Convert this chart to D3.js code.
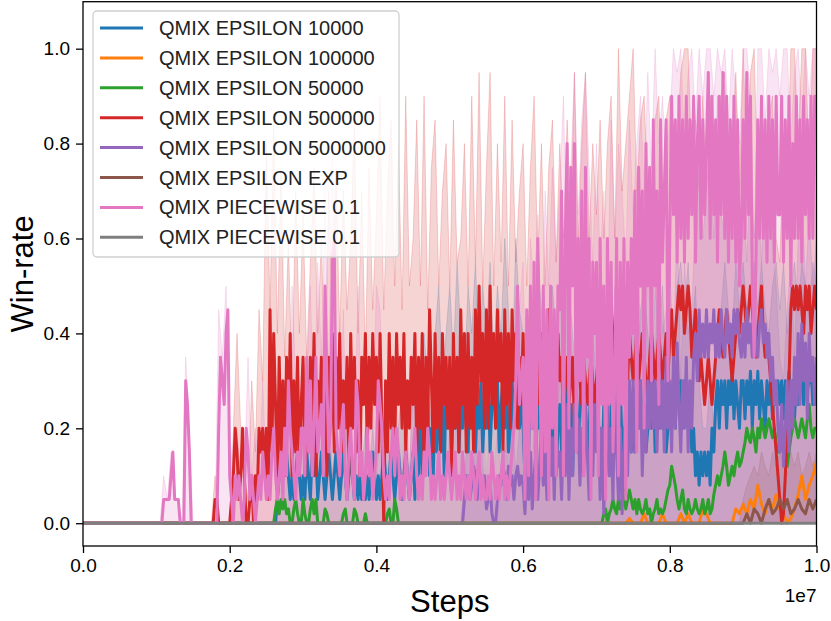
<!DOCTYPE html>
<html>
<head>
<meta charset="utf-8">
<script src="https://cdn.jsdelivr.net/npm/d3@7"></script>
<style>
body { margin: 0; background: #fff; }
text { font-family: "Liberation Sans", Arial, sans-serif; }
</style>
</head>
<body>
<svg width="831" height="621"></svg>
<script>
// legend labels, same order as the series below
let labels = ["QMIX EPSILON 10000", "QMIX EPSILON 100000", "QMIX EPSILON 50000", "QMIX EPSILON 500000",
    "QMIX EPSILON 5000000", "QMIX EPSILON EXP", "QMIX PIECEWISE 0.1", "QMIX PIECEWISE 0.1"]
let colors = ["#1f77b4", "#ff7f0e", "#2ca02c", "#d62728", "#9467bd", "#8c564b", "#e377c2", "#7f7f7f"]

let xTicks = [0, 2e6, 4e6, 6e6, 8e6, 1e7]
let yTicks = [0, 0.2, 0.4, 0.6, 0.8, 1.0]

// logging grids: coarse = every 50k steps, fine = every 25k steps
let steps = d3.range(201).map(i => i * 50000)
let fineSteps = d3.range(401).map(i => i * 25000)

// ---- win-rate means on the fine grid (one line = 0.05e7 steps) ----
let eps10000 = [
    0,0,0,0,0,0,0,0,0,0, 0,0,0,0,0,0,0,0,0,0,
    0,0,0,0,0,0,0,0,0,0, 0,0,0,0,0,0,0,0,0,0,
    0,0,0,0,0,0,0,0,0,0, 0,0,0,0,0,0,0,0,0,0,
    0,0,0,0,0,0,0,0,0,0, 0,0,0,0,0,0,0,0,0,0,
    0,0,0,0,0,0,0,0,0,0, 0,0,0,0,0,0,0,0,0,0,
    0,0,0,0,0,0,.05,.1,.15,.1, .1,.15,.1,.05,.1,.05,.1,.15,.1,.05,
    .1,.05,.15,.1,.05,.15,.1,.15,.05,.1, .15,.1,.05,.1,.15,.1,.05,.1,.15,.1,
    .05,.1,.15,.1,.05,.1,.15,.1,.05,.1, .05,.1,.05,.1,.05,.1,.05,.1,.15,.1,
    .05,.1,.05,.1,.15,.1,.05,.1,.15,.1, .05,.1,.15,.1,.05,.1,.15,.1,.05,.1,
    .15,.05,.2,.1,.25,.1,.2,.15,.25,.1, .2,.1,.25,.15,.3,.15,.25,.1,.3,.2,
    .3,.15,.25,.2,.3,.15,.25,.2,.3,.2, .15,.3,.2,.3,.15,.25,.2,.3,.15,.25,
    .2,.3,.15,.25,.3,.2,.3,.15,.25,.3, .2,.3,.15,.2,.3,.2,.25,.3,.2,.25,
    .2,.1,.25,.15,.3,.2,.3,.15,.25,.2, .25,.1,.2,.3,.2,.25,.15,.25,.1,.2,
    .25,.15,.3,.2,.3,.15,.25,.1,.25,.2, .15,.25,.3,.2,.25,.15,.2,.3,.2,.25,
    .25,.15,.2,.1,.25,.15,.2,.1,.25,.2, .25,.15,.2,.3,.15,.2,.1,.25,.2,.15,
    .2,.15,.25,.2,.3,.2,.25,.15,.2,.25, .2,.3,.15,.25,.2,.3,.2,.25,.15,.2,
    .2,.25,.3,.2,.3,.25,.3,.2,.3,.25, .2,.25,.15,.2,.1,.15,.08,.15,.1,.15,
    .1,.15,.08,.2,.15,.25,.3,.2,.3,.25, .3,.2,.3,.25,.32,.22,.3,.25,.2,.3,
    .3,.22,.3,.25,.32,.2,.3,.25,.32,.22, .3,.25,.2,.3,.25,.3,.22,.3,.25,.3,
    .25,.3,.22,.3,.25,.32,.25,.3,.22,.3, .25,.32,.3,.25,.32,.28,.3,.33,.25,.3,
    .25]
let eps50000 = [
    0,0,0,0,0,0,0,0,0,0, 0,0,0,0,0,0,0,0,0,0,
    0,0,0,0,0,0,0,0,0,0, 0,0,0,0,0,0,0,0,0,0,
    0,0,0,0,0,0,0,0,0,0, 0,0,0,0,0,0,0,0,0,0,
    0,0,0,0,0,0,0,0,0,0, 0,0,0,0,0,0,0,0,0,0,
    0,0,0,0,0,0,0,0,0,0, 0,0,0,0,0,0,0,0,0,0,
    0,0,0,0,0,.03,.05,.02,.05,.03, .05,.02,.03,0,0,.03,.05,.02,0,0,
    .05,.02,0,0,.03,.05,.02,.05,0,0, 0,0,.03,.02,0,0,0,0,0,0,
    0,0,.02,.03,0,0,0,0,.03,.02, 0,0,0,0,.02,0,0,0,0,0,
    0,0,0,0,0,0,.02,.03,0,0, .05,.03,0,0,0,0,0,0,0,0,
    0,0,0,0,0,0,0,0,0,0, 0,0,0,0,0,0,0,0,0,0,
    0,0,0,0,0,0,0,0,0,0, 0,0,0,0,0,0,0,0,0,0,
    0,0,0,0,0,0,0,0,0,0, 0,0,0,0,0,0,0,0,0,0,
    0,0,0,0,0,0,0,0,0,0, 0,0,0,0,0,0,0,0,0,0,
    0,0,0,0,0,0,0,0,0,0, 0,0,0,0,0,0,0,0,0,0,
    0,0,0,0,.02,.03,0,.02,.03,.05, .03,.02,.05,.03,.05,.07,.03,.05,.07,.05,
    .03,.05,.02,.05,.03,.02,.03,.05,.02,.03, 0,.02,.03,.05,.02,.03,.02,.03,.05,.07,
    .08,.12,.1,.08,.05,.03,.05,.07,.03,.02, .05,.03,.02,.03,.05,.03,.02,.03,.05,.02,
    .03,.05,.02,.03,.06,.08,.1,.08,.1,.12, .15,.12,.08,.1,.12,.1,.13,.15,.12,.13,
    .15,.17,.2,.18,.17,.2,.18,.15,.2,.18, .22,.2,.18,.2,.22,.2,.18,.2,.17,.15,
    .15,.18,.17,.15,.12,.15,.18,.2,.22,.2, .18,.2,.22,.2,.18,.22,.25,.2,.18,.2,
    .2]
let eps500000 = [
    0,0,0,0,0,0,0,0,0,0, 0,0,0,0,0,0,0,0,0,0,
    0,0,0,0,0,0,0,0,0,0, 0,0,0,0,0,0,0,0,0,0,
    0,0,0,0,0,0,0,0,0,0, 0,0,0,0,0,0,0,0,0,0,
    0,0,0,0,0,0,0,0,0,0, 0,0,.05,.05,0,0,0,0,0,0,
    0,.05,.1,.2,.15,.05,.1,.2,.1,0, 0,.05,.1,0,.1,.05,.2,.15,.2,.1,
    .2,.05,.45,.15,.4,.25,.1,.35,.15,.3, .1,.35,.2,.4,.1,.3,.15,.35,.1,.25,
    .35,.1,.3,.15,.35,.2,.4,.1,.3,.2, .35,.15,.3,.1,.35,.2,.4,.15,.35,.2,
    .4,.15,.3,.2,.35,.1,.4,.2,.35,.15, .3,.1,.35,.25,.4,.15,.35,.2,.4,.25,
    .35,.15,.4,.2,0,.3,.15,.4,.2,.35, .15,.4,.25,.35,.2,.4,.15,.3,.2,.35,
    .25,.4,.15,.35,.2,.4,.1,.35,.2,.45, .3,.15,.4,.2,.35,.15,.4,.25,.35,.2,
    .35,.1,.4,.2,.35,.15,.45,.25,.4,.15, .4,.2,.35,.15,.45,.25,.5,.3,.4,.2,
    .45,.2,.5,.25,.4,.2,.45,.3,.4,.15, .45,.25,.4,.2,.45,.3,.4,.2,.35,.25,
    .4,.2,.35,.25,.45,.3,.4,.2,.35,.25, .4,.2,.35,.3,.45,.25,.4,.3,.35,.4,
    .3,.35,.2,.3,.35,.25,.3,.35,.2,.3, .35,.3,.25,.35,.3,.25,.3,.35,.3,.25,
    .3,.35,.4,.35,.45,.4,.35,.3,.45,.4, .35,.4,.3,.35,.4,.45,.35,.3,.4,.35,
    .3,.35,.4,.3,.35,.4,.35,.3,.25,.35, .4,.35,.3,.35,.4,.35,.3,.35,.4,.3,
    .4,.45,.35,.4,.45,.5,.45,.5,.4,.45, .5,.45,.35,.4,.45,.4,.3,.35,.3,.25,
    .3,.35,.3,.25,.3,.35,.4,.45,.4,.35, .4,.45,.4,.35,.3,.35,.4,.45,.4,.45,
    .5,.45,.4,.45,.5,.45,.4,.35,.4,.45, .5,.4,.35,.4,.35,.3,.25,.2,.15,.1,
    .05,0,.02,.1,.2,.3,.45,.5,.45,.5, .45,.5,.45,.4,.5,.45,.5,.4,.45,.5,
    .45]
let eps5000000 = [
    0,0,0,0,0,0,0,0,0,0, 0,0,0,0,0,0,0,0,0,0,
    0,0,0,0,0,0,0,0,0,0, 0,0,0,0,0,0,0,0,0,0,
    0,0,0,0,0,0,0,0,0,0, 0,0,0,0,0,0,0,0,0,0,
    0,0,0,0,0,0,0,0,0,0, 0,0,0,0,0,0,0,0,0,0,
    0,0,0,0,0,0,0,0,0,0, 0,0,0,0,0,0,0,0,0,0,
    0,0,0,0,0,0,0,0,0,0, 0,0,0,0,0,0,0,0,0,0,
    0,0,0,0,0,0,0,0,0,0, 0,0,0,0,0,0,0,0,0,0,
    0,0,0,0,0,0,0,0,0,0, 0,0,0,0,0,0,0,0,0,0,
    0,0,0,0,0,0,0,0,0,0, 0,0,0,0,0,0,0,0,0,0,
    0,0,0,0,0,0,0,0,0,0, 0,0,0,0,0,0,0,0,0,0,
    0,0,0,0,0,0,0,0,.05,.1, .1,.05,.08,.12,.1,.05,.12,.08,.06,.1,
    .03,.05,.08,.02,0,0,.05,.1,.08,.12, .1,.05,.12,.08,.1,.05,.1,.12,.08,.1,
    .08,.02,.12,.05,.15,.03,.1,.15,.05,.12, .2,.08,.15,.05,.2,.1,.18,.05,.2,.12,
    .15,.05,.2,.1,.25,.05,.2,.1,.25,.15, .22,.08,.2,.1,.25,.15,.05,.2,.1,.25,
    .15,.25,.05,.2,.02,.15,.25,.1,.2,.05, .3,.15,.05,.2,.02,.15,.25,.1,.3,.15,
    .3,.15,.32,.2,.3,.1,.25,.15,.3,.2, .32,.2,.3,.15,.32,.2,.3,.15,.35,.2,
    .3,.15,.35,.2,.38,.25,.15,.3,.2,.35, .15,.3,.2,.35,.4,.3,.45,.35,.42,.35,
    .45,.35,.42,.38,.45,.35,.42,.35,.45,.38, .35,.45,.38,.42,.35,.45,.4,.45,.38,.35,
    .42,.35,.45,.38,.42,.35,.45,.38,.35,.42, .45,.38,.42,.35,.4,.3,.35,.25,.3,.2,
    .15,.25,.12,.2,.3,.15,.3,.2,.35,.25, .4,.25,.42,.3,.38,.22,.4,.3,.35,.25,
    .35]
let piecewiseA = [
    0,0,0,0,0,0,0,0,0,0, 0,0,0,0,0,0,0,0,0,0,
    0,0,0,0,0,0,0,0,0,0, 0,0,0,0,0,0,0,0,0,0,
    0,0,0,0,.05,.05,.05,.05,.1,.15, .05,.05,.05,0,0,0,.3,.25,.15,0,
    0,0,0,0,0,0,0,0,0,0, 0,0,0,0,.2,.35,.3,.25,.4,.45,
    .1,.05,0,.1,.05,.1,.05,0,.05,.2, .15,.05,.1,.05,0,.05,.1,.05,.15,.1,
    .05,.1,.05,.15,.2,.1,.05,.1,.15,.05, .2,.1,.3,.2,.15,.1,.05,.15,.1,.2,
    .2,.1,.35,.15,.3,.1,.2,.35,.15,.2, .25,.1,.5,.3,.15,.2,.55,.6,.2,.15,
    .1,.2,.25,.1,.05,.15,.2,.1,.05,.3, .25,.1,.15,.05,.1,.2,.1,.15,.05,.1,
    .15,.3,.25,.2,.1,.05,.1,.05,.15,.2, .1,.2,.15,.05,.1,.05,.15,.1,.05,.1,
    .15,.2,.1,.05,.1,.05,.15,.1,.2,.15, .05,.1,.05,.1,.15,.05,.1,.05,.1,.15,
    .1,.05,.1,.15,.05,.1,.05,.15,.1,.05, .1,.05,.15,.1,.05,.1,.15,.05,.1,.05,
    .05,.1,.05,.15,.1,.05,.1,.05,.1,.15, .05,.1,.05,.1,.15,.2,.3,.5,.25,.3,
    .35,.05,.45,.1,.5,.2,.55,.05,.6,.4, .1,.5,.15,.45,.05,.5,.2,.45,.1,.5,
    .45,.7,.1,.6,.8,.2,.75,.5,.8,.15, .6,.3,.7,.1,.75,.35,.6,.05,.55,.4,
    .55,.1,.6,.25,.5,.05,.6,.25,.55,.15, .3,.6,.1,.55,.25,.6,.05,.55,.35,.6,
    .4,.7,.15,.75,.5,.7,.2,.8,.5,.75, .3,.85,.5,.7,.25,.85,.55,.7,.85,.3,
    .6,.9,.65,.85,.55,.9,.6,.85,.55,.9, .6,.85,.65,.9,.55,.8,.9,.6,.85,.65,
    .8,.95,.6,.9,.65,.85,.55,.9,.65,.95, .6,.9,.55,.85,.6,.9,.55,.85,.5,.6,
    .85,.6,.95,.65,.9,.5,.35,.55,.85,.6, .9,.6,.85,.55,.9,.6,.85,.55,.9,.65,
    .65,.9,.55,.85,.6,.9,.5,.8,.6,.9, .6,.85,.55,.9,.65,.85,.6,.9,.6,.9,
    .9]

// ---- means on the coarse grid (one line = 0.05e7 steps) ----
let eps100000 = [
    0,0,0,0,0,0,0,0,0,0, 0,0,0,0,0,0,0,0,0,0, 0,0,0,0,0,0,0,0,0,0, 0,0,0,0,0,0,0,0,0,0, 0,0,0,0,0,0,0,0,0,0,
    0,0,0,0,0,0,0,0,0,0, 0,0,0,0,0,0,0,0,0,0, 0,0,0,0,0,0,0,0,0,0, 0,0,0,0,0,0,0,0,0,0, 0,0,0,0,0,0,0,0,0,0,
    0,0,0,0,0,0,0,0,0,0, 0,0,0,0,0,0,0,0,0,0, 0,0,0,0,0,0,0,0,0,0, 0,0,0,0,0,0,0,0,0,0, 0,0,0,0,0,0,0,0,0,.01,
    0,0,0,.02,0,0,0,0,.02,0, 0,0,0,.02,0,.02,0,0,0,.03, .02,0,0,0,0,0,0,0,.03,.02,
    .04,.02,.05,.03,.08,.04,.02,.05,.03,.06, .03,.02,0,.01,.03,.06,.1,.05,.08,.1, .13]
let epsExp = [
    0,0,0,0,0,0,0,0,0,0, 0,0,0,0,0,0,0,0,0,0, 0,0,0,0,0,0,0,0,0,0, 0,0,0,0,0,0,0,0,0,0, 0,0,0,0,0,0,0,0,0,0,
    0,0,0,0,0,0,0,0,0,0, 0,0,0,0,0,0,0,0,0,0, 0,0,0,0,0,0,0,0,0,0, 0,0,0,0,0,0,0,0,0,0, 0,0,0,0,0,0,0,0,0,0,
    0,0,0,0,0,0,0,0,0,0, 0,0,0,0,0,0,0,0,0,0, 0,0,0,0,0,0,0,0,0,0, 0,0,0,0,0,0,0,0,0,0, 0,0,0,0,0,0,0,0,0,0,
    0,0,0,0,0,0,0,0,0,0, 0,0,0,0,0,0,0,0,0,0, 0,0,0,0,0,0,0,0,0,0,
    0,.02,0,.03,.02,0,.03,.05,.02,.03, .05,.03,.05,.02,.03,.05,.03,.02,.05,.03, .05]
let piecewiseB = [
    0,0,0,0,0,0,0,0,0,0, 0,0,0,0,0,0,0,0,0,0, 0,0,0,0,0,0,0,0,0,0, 0,0,0,0,0,0,0,0,0,0, 0,0,0,0,0,0,0,0,0,0,
    0,0,0,0,0,0,0,0,0,0, 0,0,0,0,0,0,0,0,0,0, 0,0,0,0,0,0,0,0,0,0, 0,0,0,0,0,0,0,0,0,0, 0,0,0,0,0,0,0,0,0,0,
    0,0,0,0,0,0,0,0,0,0, 0,0,0,0,0,0,0,0,0,0, 0,0,0,0,0,0,0,0,0,0, 0,0,0,0,0,0,0,0,0,0, 0,0,0,0,0,0,0,0,0,0,
    0,0,0,0,0,0,0,0,0,0, 0,0,0,0,0,0,0,0,0,0, 0,0,0,0,0,0,0,0,0,0, 0,0,0,0,0,0,0,0,0,0, 0,0,0,0,0,0,0,0,0,0, 0]

// ---- upper edge of the shaded spread on the coarse grid (lower edge sits on 0) ----
let eps10000Hi = [
    0,0,0,0,0,0,0,0,0,0, 0,0,0,0,0,0,0,0,0,0, 0,0,0,0,0,0,0,0,0,0, 0,0,0,0,0,0,0,0,0,0, 0,0,0,0,0,0,0,0,0,0,
    0,0,0,.1,.2,.3,.2,.1,.2,.1, .2,.1,.3,.2,.3,.1,.2,.3,.1,.2, .1,.2,.3,.2,.1,.2,.1,.2,.1,.2,
    .1,.2,.1,.3,.2,.1,.2,.3,.2,.1, .3,.2,.3,.4,.3,.2,.4,.5,.3,.4, .5,.35,.55,.4,.3,.5,.4,.55,.35,.5,
    .4,.55,.35,.5,.4,.6,.45,.3,.6,.45, .4,.3,.5,.4,.55,.45,.35,.3,.5,.4, .5,.4,.55,.45,.35,.3,.4,.5,.4,.55,
    .45,.4,.3,.45,.5,.4,.3,.45,.5,.4, .45,.3,.45,.5,.4,.3,.5,.4,.5,.3, .45,.3,.5,.55,.45,.55,.4,.5,.3,.2,
    .2,.3,.2,.4,.45,.55,.45,.4,.55,.45, .55,.45,.4,.55,.45,.55,.45,.4,.5,.55, .45,.55,.4,.5,.55,.45,.55,.5,.45,.55, .5]
let eps500000Hi = [
    0,0,0,0,0,0,0,0,0,0, 0,0,0,0,0,0,0,0,0,0, 0,0,0,0,0,0,0,0,0,0, 0,0,0,0,0,0,.1,0,0,0,
    0,.2,.4,.2,.1,.05,.3,.15,.45,.3, .8,.45,.85,.4,.75,.35,.6,.3,.7,.4, .65,.35,.55,.75,.4,.6,.3,.7,.45,.75,
    .4,.7,.45,.6,.85,.4,.7,.35,.75,.45, .65,.9,.45,.7,.85,.5,.8,.45,.9,.5, .6,.85,.5,.9,.45,.75,.85,.5,.7,.8,
    .5,.85,.55,.6,.8,.5,.9,.55,.95,.5, .75,.95,.5,.8,.55,.9,.5,.85,.55,.7, .8,.5,.75,.9,.55,.8,.5,.75,.85,.55,
    .8,.6,.85,.65,.95,.6,.8,.95,.6,.8, .65,.85,.6,.8,.9,.6,1,.7,.8,.9, 1,.7,.85,.9,.7,.65,.85,.9,.65,.85,
    .9,.7,.8,.95,1,1,.75,.85,.7,.9, .7,.9,.65,.75,.9,.95,.7,.8,.95,.7, 1,.75,.95,1,.7,.9,.65,.85,.9,.6,
    .55,.8,.7,1,1,.8,1,1,.75,1, 1]
let eps5000000Hi = [
    0,0,0,0,0,0,0,0,0,0, 0,0,0,0,0,0,0,0,0,0, 0,0,0,0,0,0,0,0,0,0, 0,0,0,0,0,0,0,0,0,0, 0,0,0,0,0,0,0,0,0,0,
    0,0,0,0,0,0,0,0,0,0, 0,0,0,0,0,0,0,0,0,0, 0,0,0,0,0,0,0,0,0,0, 0,0,0,0,0,0,0,0,0,0, 0,0,0,0,0,0,0,0,0,0,
    0,0,0,0,.1,.2,.1,.15,.25,.12, .06,.1,.05,0,.1,.15,.2,.25,.1,.2, .15,.1,.06,.2,.12,.25,.3,.1,.2,.4,
    .3,.1,.2,.4,.25,.45,.35,.5,.2,.4, .3,.2,.1,.4,.25,.5,.2,.1,.4,.3, .5,.6,.4,.3,.55,.45,.35,.55,.4,.45,
    .55,.35,.65,.3,.55,.4,.45,.65,.75,.6, .7,.8,.6,.9,.65,.6,.75,.6,.85,.65, .7,.55,.75,.6,.7,.55,.75,.65,.6,.5,
    .35,.3,.45,.55,.35,.6,.7,.5,.65,.5, .6]
let epsExpHi = [
    0,0,0,0,0,0,0,0,0,0, 0,0,0,0,0,0,0,0,0,0, 0,0,0,0,0,0,0,0,0,0, 0,0,0,0,0,0,0,0,0,0, 0,0,0,0,0,0,0,0,0,0,
    0,0,0,0,0,0,0,0,0,0, 0,0,0,0,0,0,0,0,0,0, 0,0,0,0,0,0,0,0,0,0, 0,0,0,0,0,0,0,0,0,0, 0,0,0,0,0,0,0,0,0,0,
    0,0,0,0,0,0,0,0,0,0, 0,0,0,0,0,0,0,0,0,0, 0,0,0,0,0,0,0,0,0,0, 0,0,0,0,0,0,0,0,0,0, 0,0,0,0,0,0,0,0,0,0,
    0,0,0,0,0,0,0,0,0,0, 0,0,0,0,0,0,0,0,0,0, 0,0,0,0,0,0,0,0,0,0,
    .05,.08,.1,.12,.1,.15,.12,.1,.15,.12, .15,.12,.1,.15,.12,.15,.1,.12,.15,.12, .15]
let piecewiseAHi = [
    0,0,0,0,0,0,0,0,0,0, 0,0,0,0,0,0,0,0,0,0, 0,0,.1,.05,.15,.05,.05,0,.35,.2, 0,0,0,0,0,0,0,.45,.35,.5,
    .2,.1,.2,.1,.1,.35,.1,.2,.1,.3, .1,.2,.35,.1,.2,.3,.2,.5,.3,.2, .35,.3,.5,.2,.55,.35,.7,.3,.8,.35,
    .2,.45,.1,.3,.2,.5,.2,.1,.3,.2, .5,.45,.2,.1,.3,.35,.2,.1,.3,.1, .35,.2,.1,.2,.3,.1,.2,.1,.2,.1,
    .2,.1,.3,.2,.1,.2,.1,.3,.1,.2, .1,.2,.1,.2,.1,.2,.1,.2,.5,.45, .55,.2,.6,.5,.65,.3,.7,.5,.75,.55,
    .7,.9,.55,.75,.95,.65,.85,.95,.75,.55, .8,.55,.7,.45,.85,.6,.8,.7,.55,.85, .65,.8,.9,.7,.95,.75,1,.8,.9,.75,
    .85,1,.95,1,.8,.95,1,.85,1,.9, 1,1,.9,1,.95,1,.85,1,.9,.8, 1,1,.9,.6,1,1,.85,1,.95,1,
    .9,1,1,.8,.95,1,.85,1,.9,1, 1]

// which grid each series was logged on
let lineSeries = [
    [fineSteps, eps10000], [steps, eps100000], [fineSteps, eps50000], [fineSteps, eps500000],
    [fineSteps, eps5000000], [steps, epsExp], [fineSteps, piecewiseA], [steps, piecewiseB]]
let highs = [eps10000Hi, null, null, eps500000Hi, eps5000000Hi, epsExpHi, piecewiseAHi, null]

let svg = d3.select("svg")
let margin = { top: 1.7, right: 816.5, bottom: 546, left: 83 }

let x = d3.scaleLinear()
    .domain([0, 1e7])
    .range([margin.left, margin.right])

let y = d3.scaleLinear()
    .domain([-0.048, 1.099])
    .range([margin.bottom, margin.top])

svg.append("clipPath").attr("id", "plot")
    .append("rect")
    .attr("x", margin.left).attr("y", margin.top)
    .attr("width", margin.right - margin.left)
    .attr("height", margin.bottom - margin.top)

let plot = svg.append("g").attr("clip-path", "url(#plot)")

let line = d3.line()
    .x(d => x(d[0]))
    .y(d => y(d[1]))

let area = d3.area()
    .x((d, i) => x(steps[i]))
    .y0(y(0))
    .y1(d => y(d))

// spreads go underneath every line (collections sit below lines in the original)
highs.forEach(function (h, k) {
    if (!h) return
    plot.append("path")
        .attr("d", area(h))
        .style("fill", colors[k])
        .style("fill-opacity", 0.2)
        .style("stroke", colors[k])
        .style("stroke-opacity", 0.2)
        .style("stroke-width", "1px")
})

lineSeries.forEach(function (s, k) {
    plot.append("path")
        .attr("d", line(d3.zip(s[0], s[1])))
        .style("fill", "none")
        .style("stroke", colors[k])
        .style("stroke-width", "3px")
        .style("stroke-linejoin", "round")
})

let xAxis = svg.append("g")
    .attr("transform", `translate(0,${margin.bottom})`)
    .call(d3.axisBottom(x).tickValues(xTicks).tickSize(7).tickPadding(6)
        .tickFormat(d => (d / 1e7).toFixed(1)))

let yAxis = svg.append("g")
    .attr("transform", `translate(${margin.left},0)`)
    .call(d3.axisLeft(y).tickValues(yTicks).tickSize(7).tickPadding(6)
        .tickFormat(d3.format(".1f")))

svg.selectAll(".tick text")
    .style("font-size", "19px")
    .style("font-family", "'Liberation Sans', Arial, sans-serif")
    .style("fill", "#000")
svg.selectAll(".tick line").style("stroke", "#000").style("stroke-width", "1.3px")
svg.selectAll(".domain").remove()

// frame
svg.append("rect")
    .attr("x", margin.left).attr("y", margin.top)
    .attr("width", margin.right - margin.left)
    .attr("height", margin.bottom - margin.top)
    .style("fill", "none")
    .style("stroke", "#000")
    .style("stroke-width", "1.3px")

svg.append("text")
    .attr("x", margin.right)
    .attr("y", 602)
    .attr("text-anchor", "end")
    .style("font-size", "19px")
    .text("1e7")

svg.append("text")
    .attr("x", (margin.left + margin.right) / 2)
    .attr("y", 612)
    .attr("text-anchor", "middle")
    .style("font-size", "31px")
    .text("Steps")

svg.append("text")
    .attr("transform", `translate(33,${(margin.top + margin.bottom) / 2}) rotate(-90)`)
    .attr("text-anchor", "middle")
    .style("font-size", "31px")
    .text("Win-rate")

// legend
let legend = svg.append("g")
legend.append("rect")
    .attr("x", 93).attr("y", 11)
    .attr("width", 306).attr("height", 246)
    .attr("rx", 4)
    .style("fill", "#fff")
    .style("fill-opacity", 0.8)
    .style("stroke", "#d0d0d0")
    .style("stroke-width", "1.3px")

labels.forEach(function (name, k) {
    let ly = 28 + k * 29.9
    legend.append("line")
        .attr("x1", 100).attr("x2", 143)
        .attr("y1", ly).attr("y2", ly)
        .style("stroke", colors[k])
        .style("stroke-width", "3px")
    legend.append("text")
        .attr("x", 159)
        .attr("y", ly + 7)
        .style("font-size", "20px")
        .style("fill", "#222")
        .text(name)
})
</script>
</body>
</html>
